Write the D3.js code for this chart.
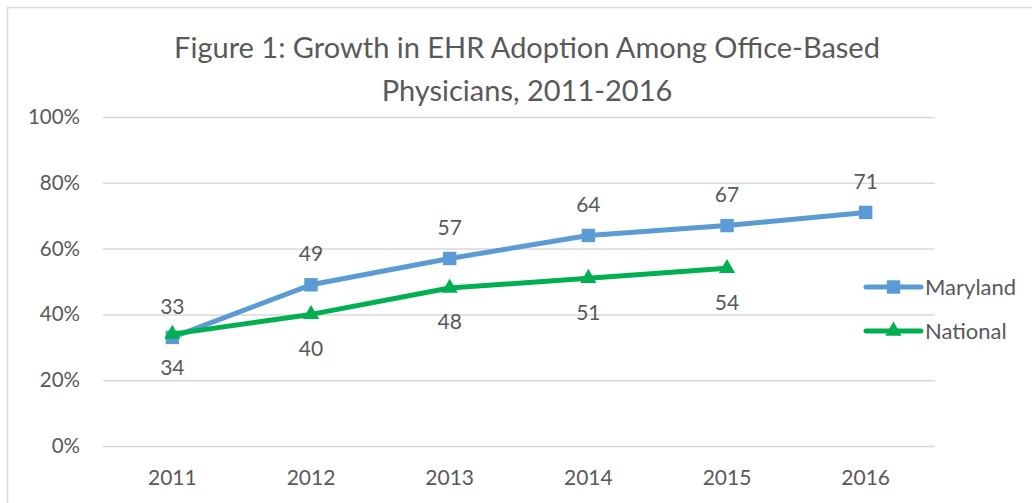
<!DOCTYPE html>
<html>
<head>
<meta charset="utf-8">
<script src="https://cdn.jsdelivr.net/npm/d3@7"></script>
<style>
  html, body { margin: 0; padding: 0; background: #fff; }
  svg text { font-family: Lato, "Open Sans", sans-serif; fill: #595959; }
</style>
</head>
<body>
<svg id="chart" width="1032" height="503"></svg>
<script>
// chart data
const years = ['2011', '2012', '2013', '2014', '2015', '2016'];
const maryland = [33, 49, 57, 64, 67, 71];
const national = [34, 40, 48, 51, 54];
const yTicks = [0, 20, 40, 60, 80, 100];
const titleLines = ['Figure 1: Growth in EHR Adoption Among Office-Based', 'Physicians, 2011-2016'];

const svg = d3.select('#chart');
const margin = { top: 117, right: 97, bottom: 57, left: 103 };
const width = 1032 - margin.left - margin.right;
const height = 503 - margin.top - margin.bottom;

// outer chart frame
svg.append('rect')
  .attr('x', 7.5).attr('y', 7.5)
  .attr('width', 1040).attr('height', 520)
  .attr('fill', 'none')
  .attr('stroke', '#d9d9d9')
  .attr('stroke-width', 1.5);

// title
svg.append('g').selectAll('text')
  .data(titleLines)
  .enter()
  .append('text')
  .attr('x', 527)
  .attr('y', (_, i) => 58 + i * 43)
  .attr('text-anchor', 'middle')
  .style('font-size', '29px')
  .text(d => d);

const x = d3.scaleBand().domain(years).range([0, width]);
const y = d3.scaleLinear().domain([0, 100]).range([height, 0]);

const chart = svg.append('g').attr('transform', `translate(${margin.left},${margin.top})`);

// gridlines
chart.append('g')
  .call(d3.axisLeft(y).tickValues(yTicks).tickSize(-width).tickFormat(d => d + '%').tickPadding(23))
  .call(g => g.select('.domain').remove())
  .call(g => g.selectAll('.tick line').attr('stroke', '#d9d9d9').attr('stroke-width', 1.5))
  .call(g => g.selectAll('.tick text').style('font-size', '20.5px'));

// x axis labels
chart.append('g')
  .attr('transform', `translate(0,${height})`)
  .call(d3.axisBottom(x).tickSize(0).tickPadding(24))
  .call(g => g.select('.domain').remove())
  .call(g => g.selectAll('.tick text').style('font-size', '21px'));

const cx = d => x(d) + x.bandwidth() / 2;

const series = [
  { name: 'Maryland', values: maryland, color: '#5b9bd5', marker: d3.symbolSquare, size: 180, labelDy: -31 },
  { name: 'National', values: national, color: '#00b050', marker: d3.symbolTriangle, size: 115, labelDy: 34 }
];

const line = d3.line().x(d => cx(d.year)).y(d => y(d.value));

series.forEach(s => {
  const pts = s.values.map((v, i) => ({ year: years[i], value: v }));
  chart.append('path')
    .datum(pts)
    .attr('d', line)
    .attr('fill', 'none')
    .attr('stroke', s.color)
    .attr('stroke-width', 5)
    .attr('stroke-linejoin', 'round')
    .attr('stroke-linecap', 'round');

  chart.append('g').selectAll('path')
    .data(pts)
    .enter()
    .append('path')
    .attr('d', d3.symbol().type(s.marker).size(s.size))
    .attr('transform', d => `translate(${cx(d.year)},${y(d.value)})`)
    .attr('fill', s.color);

  chart.append('g').selectAll('text')
    .data(pts)
    .enter()
    .append('text')
    .attr('x', d => cx(d.year))
    .attr('y', d => y(d.value) + s.labelDy)
    .attr('dy', '0.35em')
    .attr('text-anchor', 'middle')
    .style('font-size', '21px')
    .text(d => d.value);
});

// legend
const legend = svg.append('g').attr('transform', 'translate(866,0)');
series.forEach((s, i) => {
  const ly = 287 + i * 44;
  legend.append('line')
    .attr('x1', 0).attr('x2', 55)
    .attr('y1', ly).attr('y2', ly)
    .attr('stroke', s.color)
    .attr('stroke-width', 5)
    .attr('stroke-linecap', 'round');
  legend.append('path')
    .attr('d', d3.symbol().type(s.marker).size(s.size))
    .attr('transform', `translate(27.5,${ly})`)
    .attr('fill', s.color);
  legend.append('text')
    .attr('x', 59)
    .attr('y', ly)
    .attr('dy', '0.35em')
    .style('font-size', '22px')
    .text(s.name);
});
</script>
</body>
</html>
